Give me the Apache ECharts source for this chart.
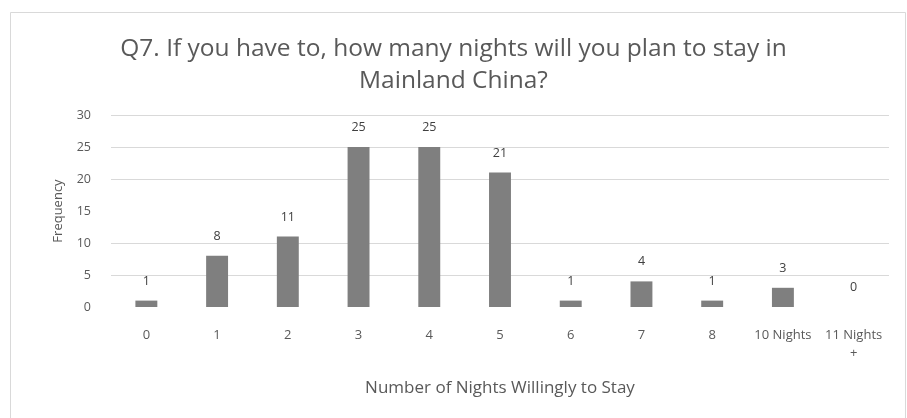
<!DOCTYPE html>
<html>
<head>
<meta charset="utf-8">
<script src="https://cdn.jsdelivr.net/npm/echarts@6/dist/echarts.min.js"></script>
<style>
  html, body { margin: 0; padding: 0; background: #ffffff; }
  #chart { width: 907px; height: 418px; }
</style>
</head>
<body>
<div id="chart"></div>
<script>
// Survey answers: planned nights of stay and number of respondents
const categories = ['0', '1', '2', '3', '4', '5', '6', '7', '8', '10 Nights', '11 Nights\n+'];
const counts = [1, 8, 11, 25, 25, 21, 1, 4, 1, 3, 0];
const yTicks = { min: 0, max: 30, interval: 5 };

const titleText = 'Q7. If you have to, how many nights will you plan to stay in\nMainland China?';
const xAxisTitle = 'Number of Nights Willingly to Stay';
const yAxisTitle = 'Frequency';

const FONT = '"Open Sans", Lato, sans-serif';
const TEXT = '#595959';
const GRID = '#d9d9d9';

const chart = echarts.init(document.getElementById('chart'), null, { renderer: 'canvas' });

chart.setOption({
  backgroundColor: '#ffffff',
  animation: false,
  graphic: [{
    type: 'rect',
    shape: { x: 10.5, y: 12.5, width: 895, height: 430 },
    style: { fill: 'none', stroke: GRID, lineWidth: 1 },
    silent: true,
    z: -1
  }],
  title: {
    text: titleText,
    left: 'center',
    top: 28,
    textStyle: {
      fontFamily: FONT,
      fontSize: 24.5,
      fontWeight: 'normal',
      color: TEXT,
      lineHeight: 32
    }
  },
  grid: { left: 111, right: 18, top: 115, bottom: 111, containLabel: false },
  xAxis: {
    type: 'category',
    data: categories,
    name: xAxisTitle,
    nameLocation: 'middle',
    nameGap: 73,
    nameTextStyle: { fontFamily: FONT, fontSize: 17, color: TEXT },
    axisLine: { show: false },
    axisTick: { show: false },
    axisLabel: {
      interval: 0,
      margin: 19,
      fontFamily: FONT,
      fontSize: 13,
      color: TEXT,
      lineHeight: 18
    }
  },
  yAxis: {
    type: 'value',
    min: yTicks.min,
    max: yTicks.max,
    interval: yTicks.interval,
    name: yAxisTitle,
    nameLocation: 'middle',
    nameRotate: 90,
    nameGap: 46,
    nameTextStyle: { fontFamily: FONT, fontSize: 13, color: TEXT },
    axisLine: { show: false },
    axisTick: { show: false },
    axisLabel: {
      margin: 20,
      fontFamily: FONT,
      fontSize: 12.5,
      color: TEXT
    },
    splitLine: {
      show: true,
      lineStyle: {
        // the baseline and the 15 line are not drawn
        color: ['transparent', GRID, GRID, 'transparent', GRID, GRID, GRID],
        width: 1
      }
    }
  },
  series: [{
    type: 'bar',
    data: counts,
    barWidth: '31%',
    itemStyle: { color: '#7f7f7f' },
    label: {
      show: true,
      position: 'top',
      distance: 13,
      fontFamily: FONT,
      fontSize: 12.5,
      color: '#404040'
    }
  }]
});
</script>
</body>
</html>
